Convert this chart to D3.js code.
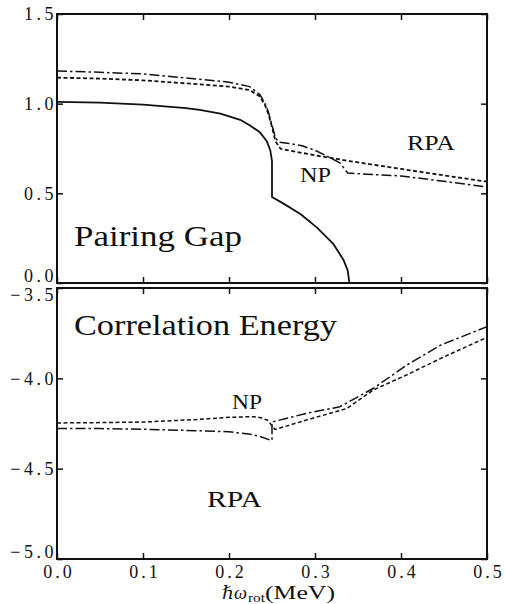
<!DOCTYPE html>
<html><head><meta charset="utf-8">
<script src="https://cdn.jsdelivr.net/npm/d3@7"></script>
<style>body{margin:0;background:#fff}svg{display:block}</style>
</head><body>
<svg id="c" width="505" height="604"></svg>
<script>
// ---- data ----
const xTicks = [0, 0.1, 0.2, 0.3, 0.4, 0.5];
const gapTicks = [0, 0.5, 1.0, 1.5];
const corrTicks = [-5.0, -4.5, -4.0, -3.5];

// Pairing gap (MeV) vs hbar*omega_rot (MeV)
const gapHFB = [[0,1.01],[0.05,1.006],[0.1,0.995],[0.15,0.975],[0.166,0.965],[0.19,0.945],[0.213,0.91],[0.224,0.88],[0.236,0.84],[0.244,0.79],[0.248,0.74],[0.25,0.68],[0.25,0.48],[0.263,0.444],[0.283,0.385],[0.302,0.31],[0.321,0.22],[0.333,0.13],[0.338,0.07],[0.34,0]];
const gapRPA = [[0,1.182],[0.05,1.175],[0.1,1.166],[0.166,1.136],[0.2,1.12],[0.224,1.095],[0.236,1.05],[0.242,1.0],[0.246,0.95],[0.25,0.88],[0.254,0.81],[0.258,0.785],[0.27,0.778],[0.285,0.765],[0.3,0.74],[0.315,0.705],[0.329,0.67],[0.338,0.613],[0.36,0.607],[0.4,0.597],[0.45,0.567],[0.5,0.535]];
const gapNP = [[0,1.145],[0.05,1.14],[0.1,1.13],[0.166,1.108],[0.2,1.095],[0.224,1.076],[0.236,1.04],[0.242,0.99],[0.246,0.94],[0.25,0.87],[0.254,0.79],[0.26,0.748],[0.3,0.712],[0.34,0.68],[0.4,0.636],[0.45,0.6],[0.5,0.565]];

// Correlation energy (MeV)
const corrNP = [[0,-4.247],[0.05,-4.245],[0.1,-4.242],[0.166,-4.227],[0.2,-4.216],[0.228,-4.212],[0.237,-4.218],[0.245,-4.232],[0.2535,-4.283],[0.29,-4.231],[0.337,-4.167],[0.368,-4.064],[0.407,-3.98],[0.446,-3.89],[0.5,-3.773]];
const corrRPA = [[0,-4.277],[0.05,-4.278],[0.1,-4.282],[0.166,-4.29],[0.2,-4.296],[0.225,-4.31],[0.237,-4.323],[0.248,-4.342],[0.25,-4.342],[0.25,-4.245],[0.2515,-4.24],[0.29,-4.194],[0.329,-4.157],[0.368,-4.055],[0.407,-3.926],[0.446,-3.816],[0.5,-3.714]];

// ---- drawing ----
const svg = d3.select('#c');
const L = 57, R = 487;
const x = d3.scaleLinear().domain([0, 0.5]).range([L, R]);
const yGap = d3.scaleLinear().domain([0, 1.5]).range([283, 14]);
const yCorr = d3.scaleLinear().domain([-5.0, -3.5]).range([559, 288]);
const SERIF = '"Liberation Serif", "DejaVu Serif", serif';
const fmt = v => d3.format('.1f')(v).replace('-', '\u2212');

function styleTicks(g) {
  g.select('.domain').remove();
  g.selectAll('.tick line').attr('stroke', '#111').attr('stroke-width', 1.5);
  g.selectAll('text').attr('fill', '#111').style('font-family', SERIF)
    .style('font-size', '18px').style('letter-spacing', '3.5px');
}

function panel(y, yTicks, id, showX) {
  const [yb, yt] = y.range();
  svg.append('clipPath').attr('id', id).append('rect')
    .attr('x', L).attr('y', yt).attr('width', R - L).attr('height', yb - yt);
  const gl = svg.append('g').attr('transform', `translate(${L},0)`)
    .call(d3.axisLeft(y).tickValues(yTicks).tickSizeInner(-6).tickSizeOuter(0).tickPadding(0).tickFormat(fmt))
    .call(styleTicks);
  svg.append('g').attr('transform', `translate(${R},0)`)
    .call(d3.axisRight(y).tickValues(yTicks).tickSizeInner(-6).tickSizeOuter(0).tickFormat(''))
    .call(styleTicks);
  svg.append('g').attr('transform', `translate(0,${yt})`)
    .call(d3.axisTop(x).tickValues(xTicks).tickSizeInner(-6).tickSizeOuter(0).tickFormat(''))
    .call(styleTicks);
  const gb = svg.append('g').attr('transform', `translate(0,${yb})`)
    .call(d3.axisBottom(x).tickValues(xTicks).tickSizeInner(-6).tickSizeOuter(0).tickPadding(6)
      .tickFormat(showX ? fmt : ''))
    .call(styleTicks);
  gb.selectAll('text').attr('dx', 1.5).style('letter-spacing', '3px');
  svg.append('rect').attr('x', L).attr('y', yt).attr('width', R - L).attr('height', yb - yt)
    .attr('fill', 'none').attr('stroke', '#111').attr('stroke-width', 2);
  return { line: d3.line().x(d => x(d[0])).y(d => y(d[1])), gl };
}

const gapPanel = panel(yGap, gapTicks, 'clipTop', false);
const corrPanel = panel(yCorr, corrTicks, 'clipBot', true);

// nudge the labels that meet at the panel junction and at the corner
gapPanel.gl.selectAll('.tick text').filter(d => d === 0).attr('dy', '-0.06em');
corrPanel.gl.selectAll('.tick text').filter(d => d === -3.5).attr('dy', '0.68em');
corrPanel.gl.selectAll('.tick text').filter(d => d === -5).attr('dy', '-0.1em');

function drawLine(data, gen, clip, dash, w) {
  svg.append('path').datum(data).attr('d', gen).attr('clip-path', `url(#${clip})`)
    .attr('fill', 'none').attr('stroke', '#111').attr('stroke-width', w)
    .attr('stroke-dasharray', dash).attr('stroke-linejoin', 'round');
}
drawLine(gapHFB, gapPanel.line, 'clipTop', null, 1.8);
drawLine(gapRPA, gapPanel.line, 'clipTop', '10,3,2.5,3', 1.5);
drawLine(gapNP, gapPanel.line, 'clipTop', '4,2.5', 1.8);
drawLine(corrNP, corrPanel.line, 'clipBot', '4,2.5', 1.5);
drawLine(corrRPA, corrPanel.line, 'clipBot', '10,3,2.5,3', 1.5);

// labels
function label(t, xp, yp, size, len, italic) {
  const s = svg.append('text').attr('x', xp).attr('y', yp).text(t)
    .style('font-family', SERIF).style('font-size', size + 'px').attr('fill', '#111');
  if (italic) s.style('font-style', 'italic');
  if (len) s.attr('textLength', len).attr('lengthAdjust', 'spacingAndGlyphs');
  return s;
}
label('Pairing Gap', 74, 246, 30, 168);
label('Correlation Energy', 74, 335, 30, 263);
label('NP', 300, 182, 22, 31);
label('RPA', 407, 150, 22, 48);
label('NP', 232, 409, 21, 30);
label('RPA', 207, 507, 23, 55);

// x-axis title
label('\u210F\u03C9', 222, 599, 18, 25, true);
label('rot', 248, 602, 12, 17);
label('(MeV)', 265, 599, 19, 70);
</script>
</body></html>
